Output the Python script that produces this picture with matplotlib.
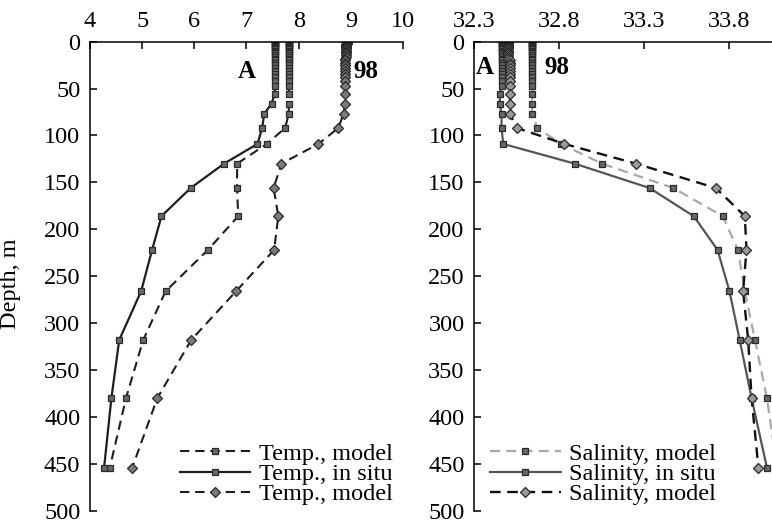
import matplotlib
matplotlib.use("Agg")
import matplotlib.pyplot as plt

plt.rcParams['font.family'] = ['Liberation Serif', 'DejaVu Serif']
plt.rcParams['font.size'] = 17.5

# depth levels (m)
depth = [0, 0.5, 1, 2, 3, 4, 5, 6, 7, 8, 9.5, 11, 12.5, 14, 16, 18, 20, 22.5, 25, 28, 31, 34.5, 38, 42,
         47, 56, 66, 77, 92, 109, 130, 156, 186, 222, 266, 318, 380, 454]

# temperature, deg C
temp_model_sq = [7.81, 7.81, 7.81, 7.81, 7.81, 7.81, 7.81, 7.81, 7.81, 7.81, 7.81, 7.81, 7.81, 7.81, 7.81, 7.81,
                 7.81, 7.81, 7.81, 7.81, 7.81, 7.81, 7.81, 7.81,
                 7.81, 7.81, 7.81, 7.81, 7.74, 7.39, 6.82, 6.82, 6.84, 6.26, 5.45, 5.02, 4.69, 4.38]
temp_insitu = [7.55, 7.55, 7.55, 7.55, 7.55, 7.55, 7.55, 7.55, 7.55, 7.55, 7.55, 7.55, 7.55, 7.55, 7.55, 7.55,
               7.55, 7.55, 7.55, 7.55, 7.55, 7.55, 7.55, 7.55,
               7.54, 7.54, 7.48, 7.34, 7.30, 7.21, 6.57, 5.93, 5.37, 5.19, 4.98, 4.56, 4.41, 4.27]
temp_model_dia = [8.92, 8.92, 8.92, 8.92, 8.91, 8.91, 8.91, 8.91, 8.91, 8.90, 8.90, 8.90, 8.90, 8.90, 8.90, 8.89,
                  8.89, 8.89, 8.89, 8.89, 8.89, 8.89, 8.89, 8.89,
                  8.89, 8.89, 8.89, 8.86, 8.76, 8.38, 7.67, 7.52, 7.61, 7.53, 6.80, 5.94, 5.29, 4.81]

# salinity, psu
sal_model_sq = [32.64, 32.64, 32.64, 32.64, 32.64, 32.64, 32.64, 32.64, 32.64, 32.64, 32.64, 32.64, 32.64, 32.64,
                32.64, 32.64, 32.64, 32.64, 32.64, 32.64, 32.64, 32.64, 32.64, 32.64,
                32.64, 32.64, 32.64, 32.64, 32.67, 32.81, 33.05, 33.47, 33.76, 33.85, 33.89, 33.95, 34.02, 34.08]
sal_insitu = [32.46, 32.46, 32.46, 32.46, 32.46, 32.46, 32.46, 32.46, 32.46, 32.46, 32.46, 32.46, 32.46, 32.46,
              32.46, 32.46, 32.46, 32.46, 32.46, 32.46, 32.46, 32.46, 32.46, 32.46,
              32.46, 32.45, 32.45, 32.46, 32.46, 32.47, 32.89, 33.33, 33.59, 33.73, 33.80, 33.86, 33.93, 34.02]
sal_model_dia = [32.50, 32.50, 32.50, 32.50, 32.50, 32.50, 32.50, 32.50, 32.50, 32.50, 32.50, 32.50, 32.50, 32.50,
                 32.50, 32.50, 32.51, 32.51, 32.51, 32.51, 32.51, 32.51, 32.51, 32.51,
                 32.51, 32.51, 32.51, 32.51, 32.55, 32.83, 33.25, 33.72, 33.89, 33.90, 33.88, 33.91, 33.93, 33.97]

temp_ticks = [4, 5, 6, 7, 8, 9, 10]
sal_ticks = [32.3, 32.8, 33.3, 33.8]
depth_ticks = [0, 50, 100, 150, 200, 250, 300, 350, 400, 450, 500]

fig = plt.figure(figsize=(7.72, 5.23), dpi=100)
ax1 = fig.add_axes([0.1166, 0.0235, 0.4054, 0.8968])
ax2 = fig.add_axes([0.6144, 0.0235, 0.3856, 0.8968])

dash = (0, (4.5, 2.8))
sq = dict(marker='s', markersize=4.0, markeredgewidth=0.9)
dia = dict(marker='D', markersize=4.8, markeredgewidth=0.9)

# left panel: temperature
ax1.plot(temp_model_sq, depth, color='#1e1e1e', lw=1.5, linestyle=dash,
         markerfacecolor='#666666', markeredgecolor='#2a2a2a', label='Temp., model', **sq)
ax1.plot(temp_insitu, depth, color='#1e1e1e', lw=1.6, linestyle='-',
         markerfacecolor='#666666', markeredgecolor='#2a2a2a', label='Temp., in situ', **sq)
ax1.plot(temp_model_dia, depth, color='#1e1e1e', lw=1.5, linestyle=dash,
         markerfacecolor='#7a7a7a', markeredgecolor='#2a2a2a', label='Temp., model', **dia)
ax1.set_xlim(4, 10)
ax1.set_xticks(temp_ticks)
ax1.text(7.0, 32, 'A', fontweight='bold', ha='center', va='center', fontsize=18)
ax1.text(9.29, 32, '98', fontweight='bold', ha='center', va='center', fontsize=18)
ax1.set_ylabel('Depth, m')
ax1.yaxis.set_label_coords(-0.22, 0.485)

# right panel: salinity
ax2.plot(sal_model_sq, depth, color='#a8a8a8', lw=1.6, linestyle=dash,
         markerfacecolor='#666666', markeredgecolor='#2a2a2a', label='Salinity, model', **sq)
ax2.plot(sal_insitu, depth, color='#555555', lw=1.6, linestyle='-',
         markerfacecolor='#666666', markeredgecolor='#2a2a2a', label='Salinity, in situ', **sq)
ax2.plot(sal_model_dia, depth, color='#111111', lw=1.7, linestyle=dash,
         markerfacecolor='#999999', markeredgecolor='#2a2a2a', label='Salinity, model', **dia)
ax2.set_xlim(32.3, 34.05)
ax2.set_xticks(sal_ticks)
ax2.set_xticklabels(['32.3', '32.8', '33.3', '33.8'])
ax2.text(32.36, 28, 'A', fontweight='bold', ha='center', va='center', fontsize=18)
ax2.text(32.785, 28, '98', fontweight='bold', ha='center', va='center', fontsize=18)

for ax, lx in ((ax1, 0.2875), (ax2, 0.053)):
    ax.set_ylim(500, 0)
    ax.set_yticks(depth_ticks)
    ax.xaxis.tick_top()
    ax.spines['right'].set_visible(False)
    ax.spines['bottom'].set_visible(False)
    ax.spines['top'].set_linewidth(1.1)
    ax.spines['left'].set_linewidth(1.1)
    ax.tick_params(axis='both', direction='in', length=5, width=1.1, pad=7)
    ax.tick_params(axis='y', left=True, right=False)
    ax.legend(loc='lower left', bbox_to_anchor=(lx, 0.012), frameon=False, handlelength=2.9,
              handletextpad=0.33, labelspacing=-0.08, borderaxespad=0.0, borderpad=0.0)

fig.savefig('out.png', dpi=100)
